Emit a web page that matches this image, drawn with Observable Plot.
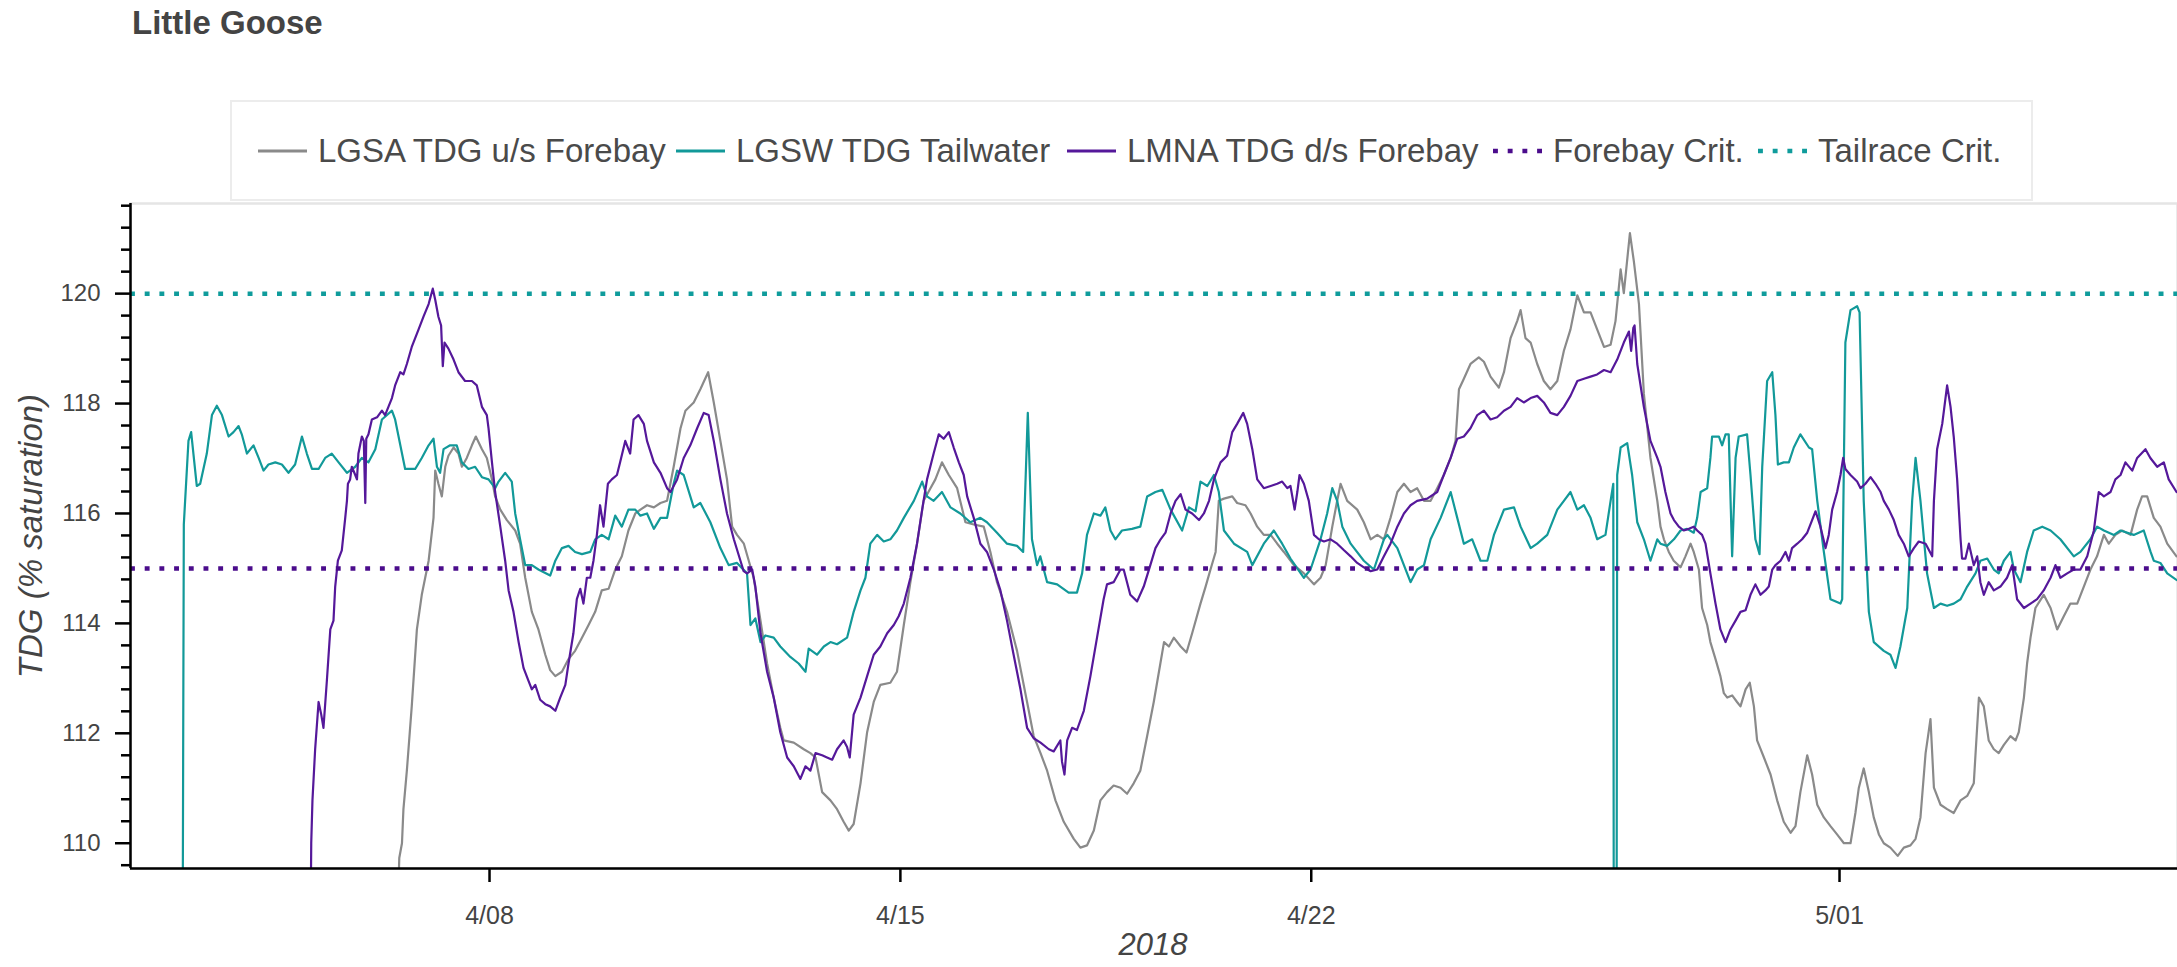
<!DOCTYPE html>
<html>
<head>
<meta charset="utf-8">
<script src="https://cdn.jsdelivr.net/npm/d3@7"></script>
<script src="https://cdn.jsdelivr.net/npm/@observablehq/plot@0.6"></script>
<style>
  html, body { margin: 0; padding: 0; background: #fff; }
  #wrap { position: relative; width: 2177px; height: 967px; overflow: hidden;
          font-family: "Liberation Sans", Arial, Helvetica, sans-serif; color: #444; }
  #title { position: absolute; left: 132px; top: 5px; font-size: 33px; line-height: 36px;
           font-weight: bold; color: #444; white-space: nowrap; }
  #legend { position: absolute; left: 230px; top: 100px; width: 1799px; height: 97px;
            border: 2px solid #ececec; background: #fff; z-index: 2; }
  .item { position: absolute; top: 0; height: 97px; display: flex; align-items: center; }
  .item span { font-size: 33px; color: #4a4a4a; white-space: nowrap; margin-left: 11px; }
  #chart { position: absolute; left: 0; top: 193px; z-index: 1; }
  #ylabel { position: absolute; left: 30px; top: 536px; font-size: 33px; font-style: italic;
            color: #444; white-space: nowrap; line-height: 33px;
            transform: translate(-50%, -50%) rotate(-90deg); z-index: 3; }
  #xlabel { position: absolute; left: 1153px; top: 929px; font-size: 31px; font-style: italic;
            color: #444; white-space: nowrap; line-height: 32px; transform: translateX(-50%); z-index: 3; }
  #chart g[aria-label="y-axis tick label"] { font-size: 24px; fill: #444; }
  #chart g[aria-label="x-axis tick label"] { font-size: 25px; fill: #444; }
</style>
</head>
<body>
<div id="wrap">
  <div id="title">Little Goose</div>
  <div id="legend"></div>
  <div id="chart"></div>
  <div id="ylabel">TDG (% saturation)</div>
  <div id="xlabel">2018</div>
</div>
<script>
// ---------- data (time = hours since 2018-04-01 00:00, value = % saturation) ----------
const chartTitle = "Little Goose";
const seriesNames = ["LGSA TDG u/s Forebay", "LGSW TDG Tailwater", "LMNA TDG d/s Forebay"];
const seriesColors = ["#8a8a8a", "#129999", "#55189a"];
const critNames = ["Forebay Crit.", "Tailrace Crit."];
const critValues = [115, 120];
const critColors = ["#4b0c8c", "#0f9c9c"];
const xTickDates = ["2018-04-08", "2018-04-15", "2018-04-22", "2018-05-01"];
const xTickLabels = ["4/08", "4/15", "4/22", "5/01"];
const yTicks = [110, 112, 114, 116, 118, 120];
const yMinorTicks = [109.6, 110.4, 110.8, 111.2, 111.6, 112.4, 112.8, 113.2, 113.6, 114.4, 114.8, 115.2, 115.6,
                     116.4, 116.8, 117.2, 117.6, 118.4, 118.8, 119.2, 119.6, 120.4, 120.8, 121.2, 121.6];
const xDomainHours = [21.2, 858.2];
const yDomain = [109.54, 121.64];

const lgsa = [
[128,105],[131.1,109.73],[132.2,110.0],[132.8,110.62],[134.2,111.32],[136.2,112.49],[138.3,113.89],[140.3,114.52],[143.1,115.14],[145.1,115.92],[145.8,116.78],[147.1,116.54],[148.5,116.31],[149.9,116.85],[151.2,117.05],[153.3,117.2],[155.3,117.09],[156.7,116.85],[158.7,117.01],[160.8,117.24],[162.4,117.4],[164.9,117.17],[166.9,117.01],[169,116.62],[170.3,116.31],[172.4,116.07],[175.1,115.88],[178.5,115.69],[180.5,115.45],[182.6,114.83],[185.3,114.21],[188,113.89],[190.8,113.43],[192.8,113.15],[194.9,113.04],[197.6,113.12],[200.3,113.35],[203,113.5],[205.8,113.74],[208.5,113.97],[211.2,114.21],[213.9,114.6],[216.7,114.63],[219.4,114.98],[222.1,115.22],[224.8,115.69],[227.6,116.0],
[229.7,116.07],[232.4,116.15],[235.2,116.11],[237.9,116.19],[240.6,116.23],[243.3,116.85],[246.1,117.55],[248.1,117.87],[251.5,118.02],[254.2,118.26],[257.4,118.57],[259.7,118.02],[262.4,117.32],[265.1,116.62],[267.2,115.76],[269.2,115.61],[272,115.45],[274,115.14],[276,114.83],[278.8,114.05],[281.5,113.27],[284.2,112.65],[286.9,112.1],[288.3,111.87],[292.4,111.83],[296.5,111.71],[299.2,111.64],[301.3,111.56],[304,110.93],[307.4,110.78],[310.1,110.62],[312.8,110.39],[314.9,110.23],[316.9,110.35],[319.7,111.09],[322.4,112.02],[325.1,112.57],[327.8,112.88],[331.9,112.92],[334.6,113.12],[337.4,113.97],[340.1,114.75],[342.8,115.45],[345.5,116.23],[348.3,116.46],[350.3,116.62],[353,116.93],[355.8,116.7],[359.2,116.46],[362.6,115.84],[366,115.8],[370.1,115.76],[372.8,115.3],[375.5,114.75],[379.6,114.21],[383.7,113.5],[387.8,112.57],[390.5,111.95],[393.3,111.64],[396,111.32],[399.4,110.78],[402.8,110.39],[406.9,110.08],[409.6,109.92],[412.3,109.96],[415.1,110.23],[417.8,110.78],[420.5,110.93],[423.2,111.05],[426,111.01],[428.7,110.9],[431.4,111.09],[434.1,111.32],[436.9,111.95],[439.6,112.57],[442.3,113.27],
[443.8,113.66],[445.8,113.58],[447.8,113.74],[450.6,113.58],[453,113.47],[455.3,113.82],[458.7,114.36],[460.8,114.67],[462.8,114.98],[464.9,115.3],[466.2,116.23],[468.3,116.27],[471.7,116.31],[473.7,116.19],[477.1,116.15],[479.2,116.0],[481.9,115.76],[484.6,115.61],[487.4,115.61],[490.1,115.45],[492.8,115.3],[496.9,115.06],[501,114.91],[505.1,114.71],[507.8,114.83],[509.9,115.06],[512.6,115.76],[514.6,116.23],[516,116.54],[518.7,116.23],[522.8,116.07],[525.5,115.84],[528.3,115.53],[531,115.61],[533.7,115.53],[536.4,115.92],[539.2,116.39],[541.9,116.54],[544.6,116.39],[547.3,116.46],[550.1,116.23],[552.8,116.23],[555.5,116.46],[558.2,116.7],[561,117.01],[563,117.32],[564.4,118.26],[566.4,118.45],[569.1,118.72],[572.5,118.84],[574.6,118.76],[577.3,118.49],[580.7,118.29],[582.8,118.57],[585.5,119.19],[588.2,119.5],[589.6,119.7],[591.6,119.19],[593.7,119.11],[596.4,118.72],[599.1,118.41],[601.8,118.26],[604.6,118.41],[607.3,118.96],[610,119.35],[612.8,119.97],[615.5,119.66],[618.2,119.66],[620.9,119.35],[623.7,119.03],[626.4,119.07],[628.4,119.5],[630.5,120.44],[631.8,120.01],[634.3,121.1],[635.9,120.59],[638,119.81],[640,118.18],[642.7,117.01],[645.5,116.23],
[646.8,115.76],[648.2,115.53],[650.2,115.3],[652.2,115.14],[655,115.02],[657,115.22],[659.1,115.45],[660.4,115.3],[662.5,114.98],[663.8,114.28],[665.9,113.97],[667.2,113.66],[669.3,113.35],[671.3,113.04],[672.7,112.73],[674.1,112.65],[676.1,112.69],[678.1,112.57],[679.5,112.49],[681.6,112.8],[683.3,112.92],[685,112.49],[686.3,111.87],[689.1,111.56],[691.8,111.25],[694.5,110.78],[697.2,110.39],[700,110.19],[702,110.31],[704,110.93],[706.8,111.6],[708.8,111.25],[710.9,110.7],[713.6,110.47],[716.3,110.31],[719,110.16],[721.8,110.0],[724.5,110.0],[726.5,110.55],[727.9,111.01],[729.9,111.36],[732,110.93],[734,110.47],[736.1,110.16],[738.1,110.0],[740.8,109.92],[743.8,109.77],[746.3,109.92],[749,109.96],[751.1,110.08],[753.1,110.47],[755.2,111.64],[756.2,111.95],[757.2,112.26],[758.6,111.01],[761.3,110.7],[764,110.62],[766.7,110.55],[769.5,110.78],[772.2,110.86],[774.9,111.09],[777,112.65],[779,112.49],[781,111.87],[783.1,111.71],[785.1,111.64],[787.2,111.79],[789.9,111.95],[792,111.87],[793.3,112.02],[795.4,112.65],[796.7,113.27],[798.1,113.74],[800.1,114.28],[803.5,114.52],[806.3,114.28],[809,113.89],[811.7,114.13],[814.4,114.36],[817.2,114.36],[819.9,114.67],[822.6,114.98],[825.3,115.22],[828.1,115.61],[830.1,115.45],[832.8,115.61],[835.6,115.69],[839,115.61],[841.7,116.07],[843.7,116.31],[845.8,116.31],[848.5,115.92],[851.2,115.76],[854,115.45],[857.8,115.22]
];

const lgsw = [
[42,100],[43,115.8],[44.9,117.32],[46,117.48],[48.3,116.5],[49.7,116.54],[52.4,117.09],[54.5,117.79],[56.5,117.96],[58.6,117.79],[61.3,117.4],[63.3,117.48],[65.4,117.59],[66.7,117.44],[68.8,117.09],[71.5,117.24],[73.6,117.01],[75.6,116.78],[77.6,116.89],[80.4,116.93],[83.1,116.89],[85.8,116.74],[88.5,116.89],[91.3,117.4],[93.3,117.09],[95.4,116.81],[98.1,116.81],[100.8,117.01],[103.5,117.09],[106.3,116.93],[109.7,116.74],[113.1,116.85],[115.8,117.01],[118.5,116.93],[121.3,117.17],[124,117.71],[128.1,117.87],[129.4,117.71],[133.5,116.81],[137.6,116.81],[140.3,117.01],[143.1,117.24],[145.1,117.36],[146.5,116.85],[147.8,116.74],[149.2,117.17],[151.9,117.24],[154.6,117.24],[156.7,116.93],[159.4,116.81],[162.1,116.85],[164.9,116.66],[167.6,116.62],[170.3,116.46],[171.7,116.58],[174.4,116.74],[177.1,116.58],[178.5,116.0],[180.5,115.53],[182.6,115.06],[185.3,115.06],[188,114.98],[192.8,114.87],[194.9,115.14],[197.6,115.37],[200.3,115.41],[203,115.3],[205.8,115.26],[209.2,115.3],[211.2,115.53],[213.9,115.61],[216.7,115.53],[219.4,115.96],[222.1,115.76],[224.8,116.07],[227.6,116.07],
[229.7,115.96],[232.4,116.0],[235.2,115.72],[237.9,115.92],[240.6,115.92],[243.3,116.54],[244.7,116.78],[247.4,116.7],[251.5,116.11],[254.2,116.19],[258.3,115.84],[262.4,115.37],[265.8,115.06],[269.2,115.1],[273.3,114.91],[274.7,113.97],[276.7,114.09],[278.8,113.66],[280.8,113.78],[284.2,113.74],[286.9,113.58],[291,113.39],[294.4,113.27],[297.2,113.12],[298.5,113.54],[301.9,113.43],[304.7,113.58],[307.4,113.66],[310.1,113.62],[314.2,113.74],[316.9,114.21],[319.7,114.6],[321.7,114.83],[323.7,115.45],[326.5,115.61],[329.2,115.49],[331.9,115.53],[334.6,115.69],[337.4,115.92],[341.5,116.23],[344.9,116.58],[346.9,116.31],[349.6,116.23],[353,116.39],[356.5,116.11],[360.5,116.0],[364.6,115.84],[368.7,115.92],[371.4,115.84],[375.5,115.65],[379.6,115.45],[383.7,115.41],[386.2,115.3],[388.1,117.83],[389.8,115.53],[391.9,115.06],[393.2,115.22],[396,114.75],[400.1,114.71],[404.8,114.56],[408.2,114.56],[410.3,114.91],[412.3,115.61],[415.1,116.0],[417.8,115.96],[419.8,116.11],[421.9,115.69],[423.9,115.53],[426.6,115.69],[430.7,115.72],[434.1,115.76],[436.9,116.31],[440.3,116.39],
[443.1,116.43],[446.5,116.07],[451.2,115.69],[454,116.11],[456.7,116.04],[458.7,116.58],[461.5,116.5],[464.2,116.7],[466.2,116.39],[468.3,115.69],[472.4,115.45],[477.8,115.3],[479.9,115.06],[484.6,115.45],[488.7,115.69],[492.1,115.45],[495.5,115.18],[501,114.83],[503.7,114.98],[507.8,115.53],[510.5,116.0],[512.6,116.46],[514.6,116.23],[516.7,115.76],[520.1,115.45],[525.5,115.14],[529.6,114.98],[533.7,115.53],[535.1,115.61],[539.2,115.37],[542.6,114.98],[544.6,114.75],[547.3,114.98],[550.1,115.06],[552.8,115.53],[556.9,115.92],[561,116.39],[563.7,115.92],[566.4,115.45],[569.8,115.53],[573.2,115.14],[576,115.14],[578.7,115.61],[582.8,116.07],[586.9,116.11],[589.6,115.76],[593.7,115.37],[596.4,115.45],[600.5,115.61],[604.6,116.07],[607.3,116.23],[610,116.39],[612.8,116.07],[615.5,116.15],[618.2,115.92],[620.9,115.53],[624.3,115.61],[626.4,116.23],[627.5,116.54],[627.9,100],[628.6,100],[629.1,116.7],[630.5,117.2],[633.2,117.28],[635.2,116.7],[637.3,115.84],[640,115.53],[642.7,115.14],[645.5,115.53],
[646.8,115.45],[649.5,115.41],[652.3,115.53],[655,115.69],[657.7,115.72],[660.4,115.65],[661.8,115.92],[663.2,116.39],[665.9,116.46],[667.2,117.01],[667.9,117.4],[670.7,117.4],[672,117.24],[673.4,117.44],[674.7,117.44],[676.1,115.22],[677.5,117.01],[678.8,117.4],[682.2,117.44],[683.6,116.7],[685.6,115.53],[687.3,115.26],[688.4,116.85],[690.4,118.41],[692.5,118.57],[693.8,117.79],[694.8,116.89],[697.2,116.93],[699.3,116.93],[701.3,117.2],[704,117.44],[707.5,117.2],[708.8,117.17],[710.9,116.23],[713.6,115.3],[716.3,114.44],[720.4,114.36],[721.1,114.44],[722.4,119.11],[724.5,119.7],[727.2,119.77],[728.2,119.66],[729.9,116.23],[732,114.21],[734,113.66],[738.1,113.5],[740.8,113.43],[742.9,113.19],[744.9,113.58],[747.7,114.28],[749.7,116.23],[751.1,117.01],[753.1,116.23],[755.8,114.91],[758.6,114.28],[761.3,114.36],[764,114.32],[766.7,114.36],[769.5,114.44],[772.2,114.67],[775.6,114.91],[777.6,115.14],[780.4,115.18],[783.1,114.98],[785.1,114.91],[787.2,115.14],[789.9,115.3],[791.3,114.98],[794,114.75],[796.7,115.3],[799.4,115.69],[802.9,115.76],[806.3,115.69],[810.3,115.53],[815.8,115.22],[818.5,115.3],[822.6,115.53],[825.3,115.76],[828.1,115.69],[832.2,115.61],[834.9,115.69],[840.3,115.61],[844.4,115.69],[847.2,115.3],[848.5,115.14],[851.2,115.1],[854,114.91],[857.8,114.79]
];

const lmna = [
[94,104],[95.1,110.0],[95.6,110.78],[96.7,111.71],[98.1,112.57],[99.2,112.34],[100.1,112.1],[101.5,112.96],[102.9,113.89],[104.2,114.05],[104.9,114.67],[106,115.14],[107.6,115.33],[109,115.92],[109.7,116.23],[110.1,116.54],[111,116.62],[111.7,116.85],[113.1,116.7],[113.8,116.62],[114.4,117.09],[115.8,117.4],[116.6,117.32],[117.2,116.19],[117.6,117.36],[118.5,117.44],[119.9,117.71],[122,117.75],[124,117.87],[125.3,117.79],[128.1,118.1],[129.4,118.33],[131.5,118.57],[132.8,118.53],[134.2,118.72],[136.2,119.03],[139,119.35],[141,119.58],[143.1,119.81],[144.8,120.09],[145.8,119.89],[147.1,119.58],[148.2,119.42],[148.9,118.68],[149.6,119.11],[151.2,119.0],[153.3,118.8],[155.3,118.57],[158,118.41],[160.8,118.41],[162.8,118.33],[164.9,117.94],[166.9,117.79],[167.6,117.55],[169,116.93],[170.3,116.39],[172.4,115.76],[174.4,115.14],[175.8,114.6],[177.8,114.21],[179.9,113.66],[181.9,113.19],[183.9,112.96],[185.3,112.8],[186.7,112.88],[188.7,112.61],[190.8,112.53],[192.8,112.49],[194.9,112.41],[196.9,112.65],[199,112.88],[200.3,113.27],[202.3,113.82],[203.7,114.44],[205.1,114.63],[206.4,114.36],[207.8,114.83],[209.2,114.83],[210.5,115.14],[211.9,115.61],[213.2,116.15],[214.6,115.76],[216.4,116.54],[218,116.62],[220.1,116.7],[221.4,116.93],[223.5,117.32],[225.5,117.09],[226.9,117.71],[228.9,117.79],
[231.1,117.63],[232.4,117.32],[235.2,116.93],[237.9,116.74],[240.6,116.46],[242,116.39],[244.7,116.62],[247.4,117.01],[250.1,117.24],[252.9,117.55],[255.6,117.83],[257.6,117.79],[259.7,117.32],[262.4,116.62],[265.1,116.0],[267.9,115.53],[270.6,115.14],[271.9,114.95],[273.3,114.91],[275.4,114.98],[276.7,114.67],[278.8,113.82],[281.5,113.12],[284.2,112.65],[286.9,112.02],[289.7,111.56],[292.4,111.4],[295.1,111.17],[297.2,111.4],[299.2,111.32],[301.3,111.64],[304,111.6],[306,111.56],[308.1,111.52],[310.1,111.71],[312.8,111.87],[314.2,111.75],[315.3,111.56],[316.9,112.34],[319.7,112.65],[322.4,113.04],[325.1,113.43],[327.8,113.58],[330.6,113.82],[333.3,113.97],[335.3,114.13],[337.4,114.36],[340.1,114.83],[342.8,115.45],[344.9,116.07],[346.9,116.62],[349.6,117.09],[351.7,117.44],[353.7,117.36],[355.8,117.48],[357.8,117.2],[359.9,116.93],[361.9,116.7],[363.3,116.31],[366,115.92],[368.7,115.45],[371.4,115.3],[374.2,114.98],[376.9,114.6],[379.6,114.05],[382.3,113.43],[385.1,112.8],[387.8,112.1],[390.5,111.91],[393.3,111.83],[396.7,111.71],[398.7,111.67],[401.4,111.87],[402.1,111.48],[403.1,111.25],[404.2,111.87],[406.2,112.1],[408.2,112.06],[411,112.41],[413.7,113.04],[416.4,113.74],[419.1,114.44],[420.5,114.71],[423.2,114.75],[426,114.98],[427.3,114.98],[430,114.52],[432.8,114.4],[435.5,114.67],[438.2,115.06],
[440.3,115.37],[442.4,115.53],[444.4,115.65],[446.5,116.0],[448.5,116.23],[450.6,116.35],[452.6,116.07],[455.3,116.0],[458.1,115.88],[460.1,116.0],[462.2,116.23],[464.2,116.62],[466.9,116.93],[469.6,117.05],[471.7,117.48],[473.7,117.63],[476.2,117.83],[477.8,117.63],[479.9,117.17],[481.9,116.62],[484.6,116.46],[487.4,116.5],[490.1,116.54],[492.1,116.58],[494.2,116.46],[495.5,116.5],[497.2,116.07],[498.3,116.39],[499.2,116.7],[501,116.54],[503,116.23],[505.1,115.61],[507.1,115.53],[509.2,115.49],[511.9,115.53],[514.6,115.45],[517.4,115.33],[520.1,115.22],[522.8,115.1],[525.5,115.02],[528.3,114.95],[531,114.98],[533.7,115.22],[536.4,115.45],[539.2,115.76],[541.9,116.0],[544.6,116.15],[547.3,116.23],[551.4,116.27],[555.5,116.39],[558.2,116.7],[561,117.01],[563.7,117.36],[566.4,117.4],[569.1,117.55],[571.9,117.79],[574.6,117.87],[577.3,117.71],[580,117.75],[582.8,117.87],[585.5,117.94],[588.2,118.1],[590.9,118.02],[593.7,118.1],[596.4,118.14],[599.1,118.02],[601.8,117.83],[604.6,117.79],[607.3,117.94],[610,118.14],[612.8,118.41],[615.5,118.45],[618.2,118.49],[620.9,118.53],[623.7,118.61],[626.4,118.57],[629.1,118.8],[631.8,119.11],[633.9,119.31],[634.8,118.96],[635.7,119.38],[636.2,119.42],[637.3,118.72],[640,117.94],[642.7,117.32],[645.5,117.01],
[646.8,116.85],[648.8,116.39],[650.9,116.0],[652.3,115.88],[654.3,115.76],[656.3,115.69],[658.4,115.72],[660.4,115.76],[661.8,115.69],[663.8,115.61],[665.2,115.45],[667.2,114.91],[669.3,114.36],[671.3,113.89],[673.4,113.66],[675.4,113.89],[677.5,114.05],[679.5,114.21],[681.6,114.24],[683.6,114.52],[685.6,114.71],[687.7,114.52],[689.7,114.6],[691.1,114.67],[692.5,114.98],[693.8,115.06],[695.9,115.14],[697.9,115.3],[699.3,115.14],[700.6,115.37],[702.7,115.45],[704.7,115.53],[706.8,115.65],[708.8,115.88],[710.2,116.04],[712.2,115.76],[714.3,115.37],[715.6,115.61],[717,116.07],[719,116.39],[720.4,116.7],[721.5,117.01],[722.4,116.81],[724.5,116.7],[727.2,116.58],[728.6,116.46],[730.6,116.54],[732.7,116.66],[734.7,116.54],[736.8,116.39],[738.1,116.23],[740.2,116.07],[742.2,115.88],[744.2,115.61],[746.3,115.45],[748.3,115.22],[750.4,115.37],[752.4,115.49],[755.2,115.45],[757.9,115.22],[758.6,116.23],[759.9,117.17],[762,117.63],[764,118.33],[765.4,117.94],[766.7,117.4],[768.1,116.62],[769.5,115.53],[770.1,115.18],[771.5,115.18],[772.9,115.45],[774.9,115.06],[776.3,115.22],[777.6,114.75],[779,114.52],[781,114.75],[783.1,114.6],[785.8,114.67],[788.5,114.83],[790.6,115.06],[792.6,114.44],[795.4,114.28],[798.1,114.36],[800.8,114.44],[803.5,114.6],[806.3,114.83],[808.3,115.06],[810.3,114.83],[813.1,114.91],[815.8,114.98],[818.5,114.98],[821.3,115.22],[824,115.69],[826,116.39],[828.1,116.31],[830.8,116.39],[832.8,116.62],[834.9,116.7],[836.9,116.93],[839.7,116.78],[841.7,117.01],[845.1,117.17],[847.1,117.01],[849.9,116.85],[852.6,116.93],[854.6,116.62],[857.8,116.39]
];

// ---------- build ----------
const seriesData = [lgsa, lgsw, lmna];
const base = new Date(2018, 3, 1, 0, 0, 0);
const toDate = h => new Date(base.getTime() + h * 3600000);
const parseDay = d3.timeParse("%Y-%m-%d");
const tickDates = xTickDates.map(parseDay);
const tickLabelMap = new Map(tickDates.map((d, i) => [+d, xTickLabels[i]]));

document.getElementById("title").textContent = chartTitle;

const chart = Plot.plot({
  width: 2177,
  height: 774,
  marginLeft: 130,
  marginRight: 0,
  marginTop: 10,
  marginBottom: 99,
  style: { fontFamily: "'Liberation Sans', Arial, Helvetica, sans-serif", background: "transparent", overflow: "visible", color: "#444" },
  x: { type: "time", domain: xDomainHours.map(toDate) },
  y: { domain: yDomain },
  marks: [
    Plot.frame({ stroke: "#e5e5e5", strokeWidth: 2.5 }),
    ...seriesData.map((data, i) => Plot.line(data, {
      x: d => toDate(d[0]), y: d => d[1],
      stroke: seriesColors[i], strokeWidth: 2.2, clip: true
    })),
    ...critValues.map((v, i) => Plot.ruleY([v], {
      stroke: critColors[i], strokeWidth: 4.5, strokeDasharray: "4.9,9.8"
    })),
    Plot.ruleX([toDate(xDomainHours[0])], { stroke: "#000", strokeWidth: 2.5 }),
    Plot.ruleY([yDomain[0]], { stroke: "#000", strokeWidth: 2.5 }),
    Plot.axisY({ ticks: yMinorTicks, tickSize: 9, tickPadding: 0, tickFormat: () => "", stroke: "#000", strokeWidth: 2.5, label: null }),
    Plot.axisY({ ticks: yTicks, tickSize: 15, tickPadding: 15, stroke: "#000", strokeWidth: 2.5, color: "#444", label: null }),
    Plot.axisX({ ticks: tickDates, tickFormat: d => tickLabelMap.get(+d), tickSize: 14, tickPadding: 24, stroke: "#000", strokeWidth: 2.5, color: "#444", label: null })
  ]
});
document.getElementById("chart").appendChild(chart);

// ---------- legend ----------
const legendItems = [
  { label: seriesNames[0], color: seriesColors[0], dotted: false },
  { label: seriesNames[1], color: seriesColors[1], dotted: false },
  { label: seriesNames[2], color: seriesColors[2], dotted: false },
  { label: critNames[0], color: critColors[0], dotted: true },
  { label: critNames[1], color: critColors[1], dotted: true }
];
const legendLefts = [26, 444, 835, 1261, 1526];
const legend = document.getElementById("legend");
legendItems.forEach((it, i) => {
  const div = document.createElement("div");
  div.className = "item";
  div.style.left = legendLefts[i] + "px";
  const ns = "http://www.w3.org/2000/svg";
  const s = document.createElementNS(ns, "svg");
  s.setAttribute("width", 49);
  s.setAttribute("height", 10);
  const ln = document.createElementNS(ns, "line");
  ln.setAttribute("x1", 0); ln.setAttribute("x2", 49);
  ln.setAttribute("y1", 5); ln.setAttribute("y2", 5);
  ln.setAttribute("stroke", it.color);
  ln.setAttribute("stroke-width", it.dotted ? 4.5 : 3);
  if (it.dotted) ln.setAttribute("stroke-dasharray", "4.9,9.8");
  s.appendChild(ln);
  const sp = document.createElement("span");
  sp.textContent = it.label;
  div.appendChild(s);
  div.appendChild(sp);
  legend.appendChild(div);
});
</script>
</body>
</html>
